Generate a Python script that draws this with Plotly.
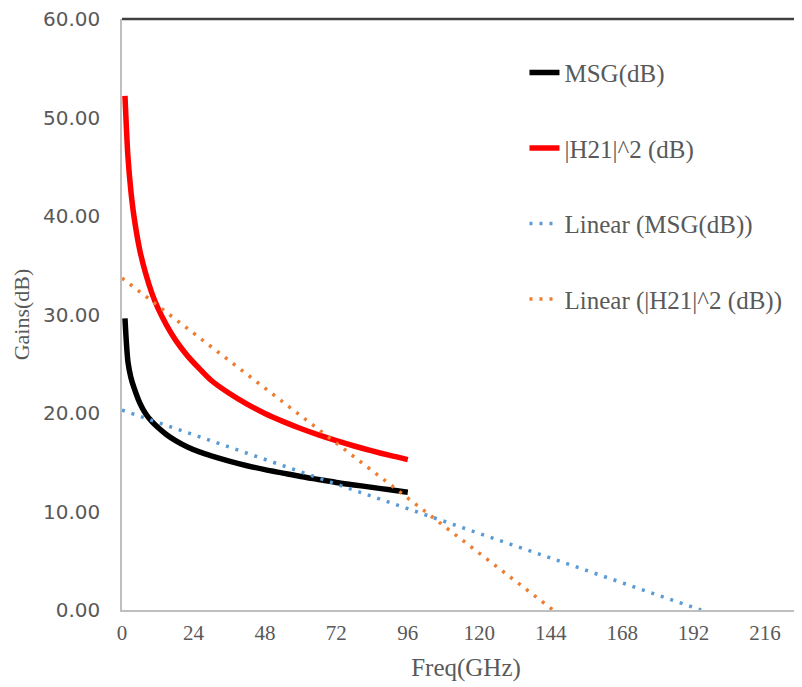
import plotly.graph_objects as go

# Frequency points (GHz)
freq = [1, 2, 3, 4, 6, 8, 10, 12, 15, 18, 22, 26, 30, 36, 42, 48, 54, 60, 66, 72, 78, 84, 90, 96]
# Maximum stable gain (dB)
msg_db = [29.6, 25.2, 23.6, 22.6, 21.0, 19.9, 19.15, 18.55, 17.8, 17.2, 16.55, 16.05, 15.65, 15.12,
          14.65, 14.25, 13.9, 13.55, 13.25, 12.95, 12.7, 12.45, 12.2, 11.95]
# |H21|^2 (dB)
h21_db = [52.2, 46.0, 42.5, 40.0, 36.5, 34.1, 32.2, 30.7, 28.9, 27.4, 25.8, 24.5, 23.3, 22.0,
          20.9, 19.95, 19.15, 18.43, 17.78, 17.19, 16.65, 16.15, 15.69, 15.27]

# Linear trend lines (endpoints)
msg_trend_x = [0, 194.5]
msg_trend_y = [20.3, 0.0]
h21_trend_x = [0, 144.8]
h21_trend_y = [33.7, 0.0]

x_ticks = [0, 24, 48, 72, 96, 120, 144, 168, 192, 216]
y_ticks = [0, 10, 20, 30, 40, 50, 60]

TXT = "#595959"
SERIF = "Liberation Serif, Times New Roman, serif"

fig = go.Figure()
fig.add_trace(go.Scatter(x=freq, y=msg_db, mode="lines", name="MSG(dB)", legendgroup="a",
                         line=dict(color="#000000", width=5.5, shape="spline", smoothing=0.8)))
fig.add_trace(go.Scatter(x=freq, y=h21_db, mode="lines", name="|H21|^2 (dB)", legendgroup="b",
                         line=dict(color="#FF0000", width=5.5, shape="spline", smoothing=0.8)))
fig.add_trace(go.Scatter(x=msg_trend_x, y=msg_trend_y, mode="lines", name="Linear (MSG(dB))",
                         legendgroup="c", line=dict(color="#5B9BD5", width=3.5, dash="3px,7px")))
fig.add_trace(go.Scatter(x=h21_trend_x, y=h21_trend_y, mode="lines", name="Linear (|H21|^2 (dB))",
                         legendgroup="d", line=dict(color="#ED7D31", width=3.5, dash="3px,7px")))

fig.update_layout(
    width=802, height=687,
    margin=dict(l=114, r=0, t=11, b=85),
    plot_bgcolor="white", paper_bgcolor="white",
    showlegend=True,
    legend=dict(x=0.585, y=0.948, xanchor="left", yanchor="top",
                font=dict(family=SERIF, size=25, color=TXT),
                tracegroupgap=40, bgcolor="rgba(0,0,0,0)"),
    xaxis=dict(range=[0, 231.1], tickvals=x_ticks, ticktext=[str(v) for v in x_ticks],
               automargin=False,
               showgrid=False, zeroline=False, showline=True, linecolor="#BFBFBF", linewidth=1.5,
               ticks="", tickfont=dict(family=SERIF, size=21, color=TXT),
               ticklabelstandoff=3,
               title=dict(text="Freq(GHz)", font=dict(family=SERIF, size=25, color=TXT), standoff=15)),
    yaxis=dict(range=[0, 60], tickvals=y_ticks, tickformat=".2f",
               automargin=False, ticklabeloverflow="allow",
               showgrid=False, zeroline=False, showline=True, linecolor="#BFBFBF", linewidth=1.5,
               ticks="", tickfont=dict(family="DejaVu Sans, Verdana, sans-serif", size=20, color=TXT),
               ticklabelstandoff=16,
               title=dict(text="Gains(dB)", font=dict(family=SERIF, size=22, color=TXT), standoff=7)),
)
fig.add_shape(type="line", xref="paper", yref="paper", x0=0, x1=1, y0=1, y1=1,
              line=dict(color="#404040", width=2.5))

fig.write_html("out.html")
